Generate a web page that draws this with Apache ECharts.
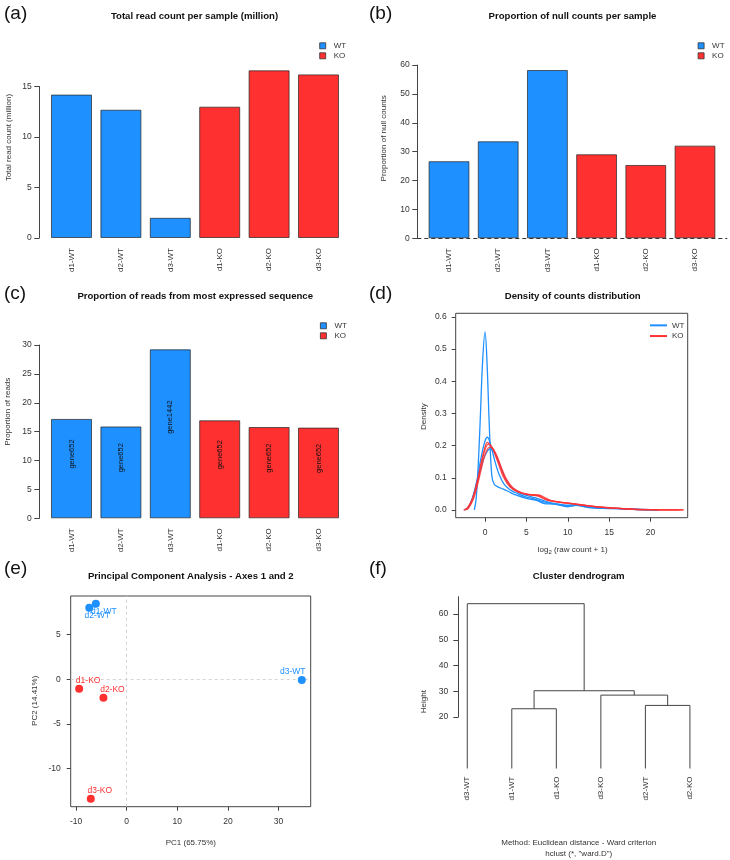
<!DOCTYPE html>
<html>
<head>
<meta charset="utf-8">
<script src="https://cdn.jsdelivr.net/npm/echarts@6/dist/echarts.min.js"></script>
<style>
  html, body { margin: 0; padding: 0; background: #fff; }
  #main { width: 730px; height: 860px; }
</style>
</head>
<body>
<div id="main"></div>
<script>
// ---- data ----
const samples = ['d1-WT', 'd2-WT', 'd3-WT', 'd1-KO', 'd2-KO', 'd3-KO'];
const groups = ['WT', 'WT', 'WT', 'KO', 'KO', 'KO'];

const totalReads = [14.2, 12.7, 2.0, 13.0, 16.6, 16.2];      // million
const nullCounts = [26.7, 33.6, 58.3, 29.1, 25.4, 32.1];     // %
const topSeqReads = [17.2, 15.9, 29.25, 16.96, 15.8, 15.7];  // %
const topSeqGenes = ['gene652', 'gene652', 'gene1442', 'gene652', 'gene652', 'gene652'];

const readTicks = [0, 5, 10, 15];
const nullTicks = [0, 10, 20, 30, 40, 50, 60];
const topSeqTicks = [0, 5, 10, 15, 20, 25, 30];

// density curves, [log2(count+1), density]
const wtDensity1 = [[-1.3, 0], [-1.1, 0.03], [-0.9, 0.1], [-0.6, 0.27], [-0.3, 0.46], [0, 0.553], [0.25, 0.45], [0.5, 0.27], [0.8, 0.11], [1.1, 0.08], [1.6, 0.071], [2.2, 0.065], [3.0, 0.055], [3.8, 0.046], [5.0, 0.036], [6.2, 0.03], [7.2, 0.02], [8.5, 0.018], [10.0, 0.01], [11.2, 0.015], [12.5, 0.007], [14, 0.005], [16, 0.004], [18, 0.002], [20, 0.001], [21, 0]];
const wtDensity2 = [[-2.5, 0], [-2.0, 0.01], [-1.5, 0.04], [-1.0, 0.09], [-0.5, 0.16], [0, 0.215], [0.3, 0.226], [0.7, 0.2], [1.2, 0.15], [1.7, 0.11], [2.3, 0.08], [3, 0.063], [4, 0.05], [5, 0.04], [6, 0.034], [7, 0.026], [8, 0.02], [9, 0.016], [10, 0.013], [11, 0.014], [12, 0.01], [13, 0.007], [15, 0.005], [17, 0.003], [19, 0.001], [21, 0]];
const wtDensity3 = [[-2.5, 0], [-2, 0.008], [-1.5, 0.035], [-1, 0.08], [-0.5, 0.13], [0, 0.17], [0.6, 0.19], [1.2, 0.175], [1.8, 0.14], [2.4, 0.1], [3, 0.075], [4, 0.055], [5, 0.045], [6, 0.038], [7, 0.03], [8, 0.022], [9, 0.018], [10, 0.015], [11, 0.016], [12, 0.012], [13.5, 0.008], [15, 0.006], [17, 0.003], [19, 0.001], [21, 0]];
const koDensity1 = [[-2.6, 0], [-2.2, 0.005], [-1.6, 0.03], [-1.0, 0.083], [-0.4, 0.155], [0.05, 0.2], [0.3, 0.21], [0.7, 0.2], [1.0, 0.186], [1.6, 0.145], [2.2, 0.103], [3.0, 0.072], [4.0, 0.055], [5.2, 0.048], [6.4, 0.043], [7.0, 0.036], [7.7, 0.029], [9.3, 0.023], [10.7, 0.019], [12, 0.014], [13.5, 0.01], [15, 0.007], [17.5, 0.003], [20, 0.001], [22, 0.0003], [24, 0]];
const koDensity2 = [[-2.5, 0], [-2.1, 0.006], [-1.5, 0.035], [-0.9, 0.09], [-0.3, 0.16], [0.1, 0.195], [0.4, 0.204], [0.8, 0.197], [1.2, 0.178], [1.8, 0.138], [2.4, 0.1], [3.2, 0.07], [4.2, 0.055], [5.4, 0.047], [6.5, 0.045], [7.2, 0.035], [8, 0.028], [9.5, 0.022], [11, 0.018], [12.5, 0.013], [14, 0.009], [16, 0.005], [18, 0.002], [20, 0.001], [23.5, 0]];
const koDensity3 = [[-2.4, 0], [-2.0, 0.006], [-1.4, 0.035], [-0.8, 0.09], [-0.2, 0.155], [0.2, 0.185], [0.55, 0.195], [1.0, 0.188], [1.4, 0.17], [2.0, 0.13], [2.6, 0.095], [3.4, 0.068], [4.4, 0.054], [5.6, 0.048], [6.6, 0.046], [7.4, 0.036], [8.2, 0.028], [9.6, 0.023], [11, 0.018], [12.5, 0.013], [14, 0.009], [16, 0.005], [18, 0.002], [21, 0.0005], [24, 0]];
const densityXTicks = [0, 5, 10, 15, 20];
const densityYTicks = [0, 0.1, 0.2, 0.3, 0.4, 0.5, 0.6];

// PCA coordinates, same order as samples
const pc1 = [-6.1, -7.4, 34.6, -9.4, -4.6, -7.1];
const pc2 = [8.46, 8.01, -0.08, -1.05, -2.06, -13.36];
const pcaXTicks = [-10, 0, 10, 20, 30];
const pcaYTicks = [-10, -5, 0, 5];

// dendrogram: leaf order and merges [left, right, height]; numbers refer to earlier merges
const leafOrder = ['d3-WT', 'd1-WT', 'd1-KO', 'd3-KO', 'd2-WT', 'd2-KO'];
const merges = [
  ['d1-WT', 'd1-KO', 23.2],
  ['d2-WT', 'd2-KO', 24.5],
  ['d3-KO', 1, 28.5],
  [0, 2, 30.2],
  ['d3-WT', 3, 64.0]
];
const heightTicks = [20, 30, 40, 50, 60];

// ---- chart ----
const FONT = '"Liberation Sans", Arial, Helvetica, sans-serif';
const colors = { WT: '#1E90FF', KO: '#FF3030' };
const AX = '#444';
const TXT = '#333';

const grids = [], xAxes = [], yAxes = [], series = [], legends = [], graphics = [];

const axLine = { show: true, onZero: false, lineStyle: { color: AX, width: 1 } };
const noLine = { show: false, onZero: false };
const axTick = (vals, len) => ({ show: true, length: len || 5, customValues: vals, lineStyle: { color: AX, width: 1 } });
const axLabel = (vals, extra) => Object.assign({ customValues: vals, fontSize: 8.5, color: TXT, fontFamily: FONT }, extra || {});

function text(str, x, y, opt) {
  opt = opt || {};
  graphics.push({
    type: 'text', x: x, y: y, rotation: opt.rotate ? Math.PI / 2 : 0, silent: true,
    style: Object.assign({
      text: str, fill: opt.color || TXT, fontFamily: FONT,
      fontSize: opt.size || 8, fontWeight: opt.bold ? 'bold' : 'normal',
      textAlign: opt.align || 'center', textVerticalAlign: 'middle'
    }, opt.style || {})
  });
}

function barLegend(left, top) {
  legends.push({
    left: left, top: top, padding: 0, orient: 'vertical', icon: 'rect', itemWidth: 6, itemHeight: 6, itemGap: 0,
    data: ['WT', 'KO'], selectedMode: false,
    itemStyle: { borderColor: '#333', borderWidth: 0.8 },
    textStyle: { fontSize: 8, lineHeight: 10, color: TXT, fontFamily: FONT, padding: [0, 0, 0, 3] }
  });
}

function barPanel(cfg) {
  const gridH = cfg.yMax * cfg.ppu;
  const gi = grids.push({ left: cfg.slotLeft, top: cfg.zeroY - gridH, width: cfg.slotW * samples.length, height: gridH }) - 1;
  const xi = xAxes.push({
    gridIndex: gi, type: 'category', data: samples,
    axisLine: noLine, axisTick: { show: false },
    axisLabel: { rotate: 90, margin: 10, interval: 0, fontSize: 8, color: TXT, fontFamily: FONT }
  }) - 1;
  const yi = yAxes.push({ gridIndex: gi, type: 'value', min: 0, max: cfg.yMax, show: false }) - 1;

  ['WT', 'KO'].forEach(g => {
    series.push({
      type: 'bar', name: g, xAxisIndex: xi, yAxisIndex: yi, barWidth: '83%', barGap: '-100%',
      data: cfg.values.map((v, i) => groups[i] === g ? v : '-'),
      itemStyle: { color: colors[g], borderColor: 'rgba(35,35,35,0.7)', borderWidth: 1 },
      label: cfg.barText ? {
        show: true, position: ['50%', '50%'], rotate: 90, align: 'left', verticalAlign: 'middle',
        formatter: p => cfg.barText[p.dataIndex], fontSize: 7.5, color: '#111', fontFamily: FONT
      } : { show: false }
    });
  });

  // R style axis: line only from first to last tick
  const topTick = cfg.ticks[cfg.ticks.length - 1];
  const ai = grids.push({ left: cfg.axisX, top: cfg.zeroY - topTick * cfg.ppu, width: cfg.axisW || 1, height: topTick * cfg.ppu }) - 1;
  const axi = xAxes.push({ gridIndex: ai, type: 'value', min: 0, max: 1, show: false }) - 1;
  const ayi = yAxes.push({
    gridIndex: ai, type: 'value', min: 0, max: topTick,
    axisLine: axLine, axisTick: axTick(cfg.ticks), axisLabel: axLabel(cfg.ticks, { margin: 7.5 }),
    splitLine: { show: false }
  }) - 1;
  if (cfg.zeroLine) {
    series.push({
      type: 'line', xAxisIndex: axi, yAxisIndex: ayi, data: [], silent: true,
      markLine: {
        symbol: 'none', silent: true, label: { show: false },
        lineStyle: { color: '#333', type: [4, 3], width: 1 }, data: [{ yAxis: 0 }]
      }
    });
  }
}

// (a) total read count
barPanel({ values: totalReads, ticks: readTicks, slotLeft: 46.8, slotW: 49.4, zeroY: 238, ppu: 10.1, yMax: 17.3, axisX: 39.3 });
barLegend(319.3, 40.8);
// (b) null counts
barPanel({ values: nullCounts, ticks: nullTicks, slotLeft: 424.4, slotW: 49.2, zeroY: 238.3, ppu: 2.887, yMax: 60.6, axisX: 417.3, axisW: 310, zeroLine: true });
barLegend(697.7, 40.8);
// (c) most expressed sequence
barPanel({ values: topSeqReads, ticks: topSeqTicks, barText: topSeqGenes, slotLeft: 46.8, slotW: 49.4, zeroY: 518.3, ppu: 5.777, yMax: 30.4, axisX: 39.3 });
barLegend(320, 320.8);

// (d) density
const gd = grids.push({ left: 455.7, top: 313.3, width: 232, height: 204.4, show: true, borderColor: AX, borderWidth: 1 }) - 1;
const dxi = xAxes.push({
  gridIndex: gd, type: 'value', min: -3.55, max: 24.5,
  axisLine: noLine, axisTick: axTick(densityXTicks, 4), axisLabel: axLabel(densityXTicks, { margin: 10 }),
  splitLine: { show: false }
}) - 1;
const dyi = yAxes.push({
  gridIndex: gd, type: 'value', min: -0.024, max: 0.611,
  axisLine: noLine, axisTick: axTick(densityYTicks, 4),
  axisLabel: axLabel(densityYTicks, { margin: 9, formatter: v => v.toFixed(1) }),
  splitLine: { show: false }
}) - 1;
[['WT', wtDensity1], ['WT', wtDensity2], ['WT', wtDensity3], ['KO', koDensity1], ['KO', koDensity2], ['KO', koDensity3]]
  .forEach(([g, d]) => {
    series.push({
      type: 'line', name: g, xAxisIndex: dxi, yAxisIndex: dyi, data: d, smooth: 0.35,
      symbol: 'none', silent: true, lineStyle: { color: colors[g], width: 1.3, opacity: g === 'KO' ? 0.85 : 1 },
      itemStyle: { color: colors[g] }
    });
  });
legends.push({
  left: 650, top: 320, padding: 0, orient: 'vertical', icon: 'rect', itemWidth: 17, itemHeight: 2, itemGap: 0,
  data: ['WT', 'KO'], selectedMode: false, itemStyle: { borderWidth: 0 },
  textStyle: { fontSize: 8, lineHeight: 10.7, color: TXT, fontFamily: FONT }
});

// (e) PCA
const ge = grids.push({ left: 70.7, top: 596, width: 240, height: 210.7, show: true, borderColor: AX, borderWidth: 1 }) - 1;
const exi = xAxes.push({
  gridIndex: ge, type: 'value', min: -11.07, max: 36.36,
  axisLine: noLine, axisTick: axTick(pcaXTicks, 4), axisLabel: axLabel(pcaXTicks, { margin: 10 }),
  splitLine: { show: false }
}) - 1;
const eyi = yAxes.push({
  gridIndex: ge, type: 'value', min: -14.25, max: 9.32,
  axisLine: noLine, axisTick: axTick(pcaYTicks, 4), axisLabel: axLabel(pcaYTicks, { margin: 10 }),
  splitLine: { show: false }
}) - 1;
const pcaLabelShift = [[8, 8], [8, 7.5], [-9, -8], [9, -8], [9, -8], [9, -8]];
['WT', 'KO'].forEach((g, k) => {
  const items = [];
  samples.forEach((s, i) => {
    if (groups[i] !== g) return;
    items.push({ name: s, value: [pc1[i], pc2[i]], label: { offset: pcaLabelShift[i] } });
  });
  series.push({
    type: 'scatter', name: g + ' PCA', xAxisIndex: exi, yAxisIndex: eyi, data: items,
    symbol: 'circle', symbolSize: 8, silent: true, z: 3,
    itemStyle: { color: colors[g], opacity: 1 },
    label: { show: true, position: 'inside', formatter: '{b}', color: colors[g], fontSize: 8.5, fontFamily: FONT },
    markLine: k === 0 ? {
      symbol: 'none', silent: true, label: { show: false }, z: 1,
      lineStyle: { color: '#d4d4d4', type: [3, 3], width: 1 },
      data: [{ xAxis: 0 }, { yAxis: 0 }]
    } : undefined
  });
});

// (f) dendrogram
const gfTop = 596.7, gfZero = 768.5, gfPpu = 2.575, gfMax = (gfZero - gfTop) / gfPpu;
const gf = grids.push({ left: 445, top: gfTop, width: 267.2, height: gfZero - gfTop }) - 1;
const fxi = xAxes.push({
  gridIndex: gf, type: 'value', min: -0.5, max: leafOrder.length - 0.5,
  axisLine: noLine, axisTick: { show: false }, splitLine: { show: false },
  axisLabel: { customValues: leafOrder.map((_, i) => i), formatter: v => leafOrder[v], rotate: 90, margin: 8, fontSize: 8, color: TXT, fontFamily: FONT }
}) - 1;
const fyi = yAxes.push({ gridIndex: gf, type: 'value', min: 0, max: gfMax, show: false }) - 1;

const nodePos = [];
const posOf = c => typeof c === 'number' ? nodePos[c] : [leafOrder.indexOf(c), 0];
const dendroSegs = merges.map(([a, b, h]) => {
  const pa = posOf(a), pb = posOf(b);
  nodePos.push([(pa[0] + pb[0]) / 2, h]);
  return [pa[0], pa[1], pb[0], pb[1], h];
});
series.push({
  type: 'custom', xAxisIndex: fxi, yAxisIndex: fyi, data: dendroSegs, silent: true,
  renderItem: (params, api) => {
    const pts = [
      [api.value(0), api.value(1)], [api.value(0), api.value(4)],
      [api.value(2), api.value(4)], [api.value(2), api.value(3)]
    ].map(p => api.coord(p));
    return { type: 'polyline', shape: { points: pts }, style: { stroke: '#444', lineWidth: 1, fill: 'none' } };
  }
});
// height axis from 20 to top of plot
const fai = grids.push({ left: 458.3, top: gfTop, width: 1, height: (gfMax - 20) * gfPpu }) - 1;
xAxes.push({ gridIndex: fai, type: 'value', min: 0, max: 1, show: false });
yAxes.push({
  gridIndex: fai, type: 'value', min: 20, max: gfMax,
  axisLine: axLine, axisTick: axTick(heightTicks), axisLabel: axLabel(heightTicks, { margin: 10 }),
  splitLine: { show: false }
});

// ---- texts ----
[['(a)', 4, 13.5], ['(b)', 369, 13.5], ['(c)', 4, 293.5], ['(d)', 369, 293.5], ['(e)', 4, 568.5], ['(f)', 369, 568.5]]
  .forEach(([t, x, y]) => text(t, x, y, { size: 19, align: 'left', color: '#111' }));

[['Total read count per sample (million)', 194.5, 16.7],
 ['Proportion of null counts per sample', 572.5, 16.7],
 ['Proportion of reads from most expressed sequence', 195.2, 296],
 ['Density of counts distribution', 572.7, 296],
 ['Principal Component Analysis - Axes 1 and 2', 190.8, 576],
 ['Cluster dendrogram', 578.7, 576]]
  .forEach(([t, x, y]) => text(t, x, y, { size: 9.6, bold: true, color: '#111' }));

text('Total read count (million)', 8.5, 137.5, { rotate: true });
text('Proportion of null counts', 383.3, 138.3, { rotate: true });
text('Proportion of reads', 8, 411.7, { rotate: true });
text('Density', 423.3, 416.7, { rotate: true });
text('PC2 (14.41%)', 35, 700.8, { rotate: true });
text('Height', 423.3, 701.7, { rotate: true });
text('PC1 (65.75%)', 190.8, 842.7);
text('', 572.7, 550, {
  style: {
    text: '{a|log}{s|2}{a| (raw count + 1)}',
    rich: { a: { fontSize: 8, fontFamily: FONT, fill: TXT }, s: { fontSize: 6, fontFamily: FONT, fill: TXT, padding: [5, 0, 0, 0] } }
  }
});
text('Method: Euclidean distance - Ward criterion', 578.7, 842.7);
text('hclust (*, "ward.D")', 578.7, 853.3);

const chart = echarts.init(document.getElementById('main'), null, { renderer: 'canvas' });
chart.setOption({
  animation: false,
  backgroundColor: '#fff',
  textStyle: { fontFamily: FONT },
  grid: grids,
  xAxis: xAxes,
  yAxis: yAxes,
  legend: legends,
  series: series,
  graphic: graphics
});
</script>
</body>
</html>
